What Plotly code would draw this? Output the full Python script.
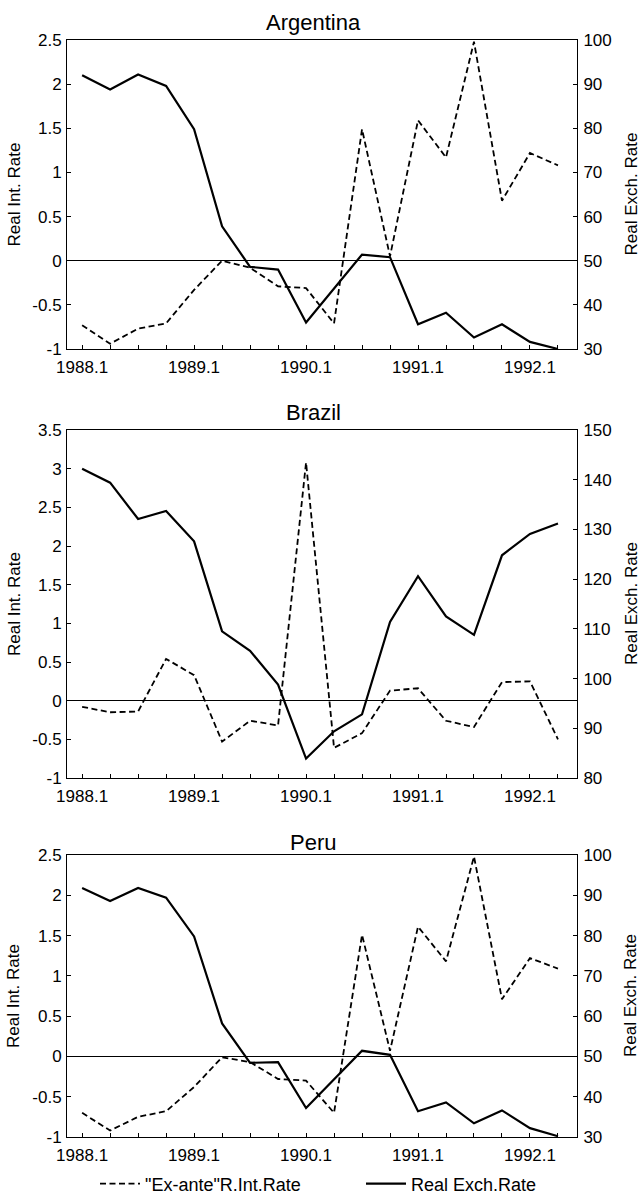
import plotly.graph_objects as go

# ---------------- data ----------------
quarters = ["1988.1", "1988.2", "1988.3", "1988.4",
            "1989.1", "1989.2", "1989.3", "1989.4",
            "1990.1", "1990.2", "1990.3", "1990.4",
            "1991.1", "1991.2", "1991.3", "1991.4",
            "1992.1", "1992.2"]
x_idx = list(range(len(quarters)))
x_tick_labels = ["1988.1", "1989.1", "1990.1", "1991.1", "1992.1"]
x_tick_pos = [quarters.index(q) for q in x_tick_labels]

panels = ["Argentina", "Brazil", "Peru"]

# "Ex-ante" real interest rate (left axis)
arg_int = [-0.73, -0.94, -0.77, -0.71, -0.33, 0.0, -0.08, -0.29, -0.31, -0.71,
           1.49, 0.05, 1.59, 1.17, 2.48, 0.68, 1.22, 1.08]
bra_int = [-0.08, -0.15, -0.14, 0.54, 0.33, -0.53, -0.26, -0.32, 3.08, -0.61,
           -0.42, 0.13, 0.16, -0.26, -0.34, 0.24, 0.25, -0.50]
per_int = [-0.70, -0.92, -0.75, -0.68, -0.38, -0.01, -0.07, -0.28, -0.30, -0.70,
           1.51, 0.07, 1.61, 1.18, 2.48, 0.71, 1.22, 1.09]

# Real exchange rate (right axis)
arg_exch = [92.0, 88.8, 92.2, 89.6, 79.8, 57.8, 48.6, 48.0, 36.0, 43.6,
            51.4, 50.8, 35.6, 38.2, 32.6, 35.6, 31.6, 30.0]
bra_exch = [142.2, 139.4, 132.1, 133.7, 127.6, 109.5, 105.6, 98.8, 83.9, 89.4,
            92.8, 111.4, 120.6, 112.5, 108.8, 124.8, 129.1, 131.2]
per_exch = [91.8, 88.6, 91.8, 89.4, 79.8, 58.2, 48.4, 48.6, 37.2, 44.4,
            51.4, 50.4, 36.4, 38.6, 33.4, 36.6, 32.2, 30.2]

# axis ticks
left_ticks = [
    [-1, -0.5, 0, 0.5, 1, 1.5, 2, 2.5],
    [-1, -0.5, 0, 0.5, 1, 1.5, 2, 2.5, 3, 3.5],
    [-1, -0.5, 0, 0.5, 1, 1.5, 2, 2.5],
]
right_ticks = [
    [30, 40, 50, 60, 70, 80, 90, 100],
    [80, 90, 100, 110, 120, 130, 140, 150],
    [30, 40, 50, 60, 70, 80, 90, 100],
]

int_series = [arg_int, bra_int, per_int]
exch_series = [arg_exch, bra_exch, per_exch]

series_names = ['"Ex-ante"R.Int.Rate', "Real Exch.Rate"]
left_title = "Real Int. Rate"
right_title = "Real Exch. Rate"

# ---------------- layout helpers ----------------
W, H = 642, 1195
ML, MR, MT, MB = 67, 65, 40, 58
PH = H - MT - MB
PW = W - ML - MR


def py(ypx):
    return 1 - (ypx - MT) / PH


def px(xpx):
    return (xpx - ML) / PW


panel_px = [(40, 349), (430, 778), (855, 1137)]
title_px = [22, 413, 842]

FONT = "Liberation Sans, Arial, Helvetica, sans-serif"


def fmt(v):
    return "%g" % v


fig = go.Figure()
legend_common = dict(orientation="h", yanchor="middle", y=py(1184), xanchor="left",
                     font=dict(size=18, family=FONT), bgcolor="rgba(0,0,0,0)",
                     itemwidth=40)
layout = dict(
    width=W, height=H,
    margin=dict(l=ML, r=MR, t=MT, b=MB, autoexpand=False),
    paper_bgcolor="white", plot_bgcolor="white",
    font=dict(family=FONT, size=17, color="black"),
    showlegend=True,
    legend=dict(x=px(95), **legend_common),
    legend2=dict(x=px(361), **legend_common),
    annotations=[],
)

for k in range(3):
    xa = "x" if k == 0 else f"x{k+1}"
    yl = f"y{2*k+1}" if k > 0 else "y"
    yr = f"y{2*k+2}"
    top, bot = panel_px[k]
    dom = [py(bot), py(top)]
    ymid = (dom[0] + dom[1]) / 2

    lt = left_ticks[k]
    rt = right_ticks[k]

    fig.add_trace(go.Scatter(
        x=x_idx, y=int_series[k], mode="lines", xaxis=xa, yaxis=yl,
        name=series_names[0], showlegend=(k == 0), legend="legend",
        line=dict(color="black", width=1.8, dash="6px,3.5px")))
    fig.add_trace(go.Scatter(
        x=x_idx, y=exch_series[k], mode="lines", xaxis=xa, yaxis=yr,
        name=series_names[1], showlegend=(k == 0), legend="legend2",
        line=dict(color="black", width=2.2)))

    xkey = "xaxis" if k == 0 else f"xaxis{k+1}"
    ylkey = "yaxis" if k == 0 else f"yaxis{2*k+1}"
    yrkey = f"yaxis{2*k+2}"

    layout[xkey] = dict(
        domain=[0, 1], anchor=yl, range=[-0.54, 17.68], automargin=False,
        tickmode="array", tickvals=x_tick_pos, ticktext=x_tick_labels,
        ticks="inside", ticklen=4, tickcolor="black", tickwidth=1,
        minor=dict(tickmode="array", tickvals=x_idx, ticks="inside", ticklen=4,
                   tickcolor="black", tickwidth=1),
        showline=True, linecolor="black", linewidth=1, mirror=True,
        showgrid=False, zeroline=False, ticklabelstandoff=3,
        tickfont=dict(size=17),
    )
    layout[ylkey] = dict(
        domain=dom, anchor=xa, range=[lt[0], lt[-1]], automargin=False,
        tickmode="array", tickvals=lt, ticktext=[fmt(v) for v in lt],
        ticks="inside", ticklen=4, tickcolor="black",
        showline=True, linecolor="black", linewidth=1,
        showgrid=False, zeroline=True, zerolinecolor="black", zerolinewidth=1,
        tickfont=dict(size=17), ticklabelstandoff=1,
    )
    layout[yrkey] = dict(
        overlaying=yl, side="right", anchor=xa, range=[rt[0], rt[-1]], automargin=False,
        tickmode="array", tickvals=rt, ticktext=[fmt(v) for v in rt],
        ticks="inside", ticklen=4, tickcolor="black",
        showline=True, linecolor="black", linewidth=1,
        showgrid=False, zeroline=False,
        tickfont=dict(size=17), ticklabelstandoff=2,
    )
    # axis titles placed explicitly at the reference positions
    layout["annotations"].append(dict(
        text=left_title, xref="paper", yref="paper", x=px(14), y=ymid,
        xanchor="center", yanchor="middle", textangle=-90, showarrow=False,
        font=dict(size=17, family=FONT, color="black")))
    layout["annotations"].append(dict(
        text=right_title, xref="paper", yref="paper", x=px(631), y=ymid,
        xanchor="center", yanchor="middle", textangle=-90, showarrow=False,
        font=dict(size=17, family=FONT, color="black")))
    layout["annotations"].append(dict(
        text=panels[k], xref="paper", yref="paper", x=px(313), y=py(title_px[k]),
        xanchor="center", yanchor="middle", showarrow=False,
        font=dict(size=22, family=FONT, color="black")))

fig.update_layout(**layout)
# remove the browser's default page margin so the figure sits at the page origin
fig.write_html("out.html",
               config={"displayModeBar": False},
               post_script="document.body.style.margin='0';"
                           "document.body.style.overflow='hidden';")
